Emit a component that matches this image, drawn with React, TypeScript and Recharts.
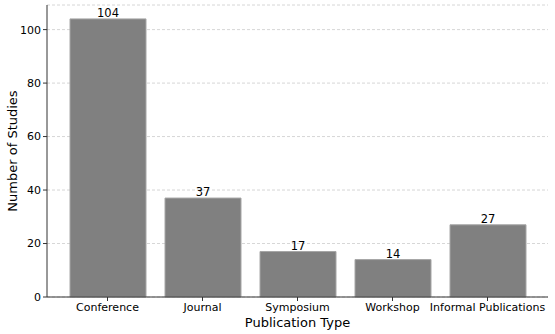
import { BarChart, Bar, XAxis, YAxis, CartesianGrid, LabelList } from "recharts";

const categories = ["Conference", "Journal", "Symposium", "Workshop", "Informal Publications"];
const studyCounts = [104, 37, 17, 14, 27];
const yTicks = [0, 20, 40, 60, 80, 100];

const data = categories.map((name, i) => ({ name, count: studyCounts[i] }));

const FONT = "DejaVu Sans, sans-serif";

export default function App() {
  return (
    <div style={{ position: "absolute", left: 0, top: 0, width: 555, height: 334, background: "#fff" }}>
      <BarChart
        width={555}
        height={334}
        data={data}
        margin={{ top: 5, right: 7, left: 0, bottom: 0 }}
        style={{ fontFamily: FONT }}
      >
        <CartesianGrid
          vertical={false}
          stroke="#cccccc"
          strokeDasharray="3 2"
          strokeWidth={0.8}
        />
        <XAxis
          dataKey="name"
          height={37}
          padding={{ left: 13, right: 13 }}
          axisLine={{ stroke: "#333", strokeWidth: 1 }}
          tickLine={{ stroke: "#333" }}
          tickSize={4}
          tick={{ fill: "#000", fontSize: 11 }}
          interval={0}
          label={{ value: "Publication Type", position: "insideBottom", offset: 7, fill: "#000", fontSize: 13 }}
        />
        <XAxis xAxisId="top" orientation="top" height={0} tick={false} tickLine={false} axisLine={{ stroke: "#333", strokeWidth: 1 }} />
        <YAxis
          width={47}
          domain={[0, 109.2]}
          ticks={yTicks}
          axisLine={{ stroke: "#333", strokeWidth: 1 }}
          tickLine={{ stroke: "#333" }}
          tickSize={4}
          tick={{ fill: "#000", fontSize: 11 }}
          label={{ value: "Number of Studies", angle: -90, position: "insideLeft", offset: 12, style: { textAnchor: "middle" }, fill: "#000", fontSize: 13 }}
        />
        <YAxis yAxisId="right" orientation="right" width={0} tick={false} tickLine={false} axisLine={{ stroke: "#333", strokeWidth: 1 }} />
        <Bar dataKey="count" fill="#808080" stroke="#a6a6a6" strokeWidth={1} barSize={76} isAnimationActive={false}>
          <LabelList dataKey="count" position="top" offset={2} fill="#000" fontSize={11.5} />
        </Bar>
      </BarChart>
    </div>
  );
}
